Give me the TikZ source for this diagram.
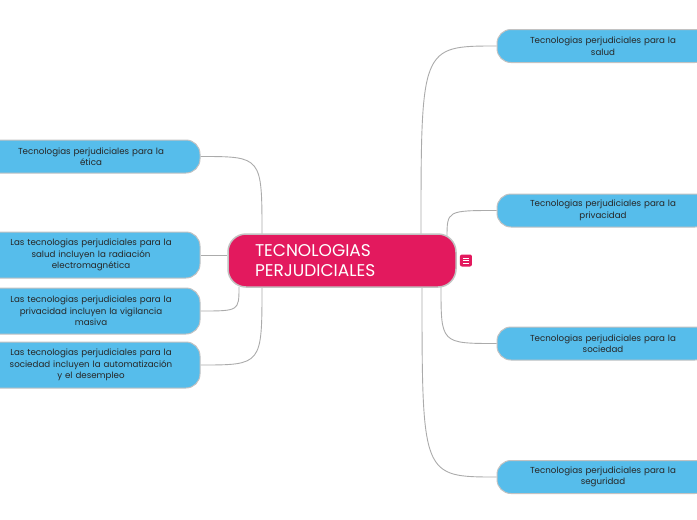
\documentclass[tikz,border=0pt]{standalone}
\usepackage{fontspec}
\setmainfont{Poppins}
\usetikzlibrary{positioning,calc}
\definecolor{mapred}{HTML}{E3195E}
\definecolor{mapblue}{HTML}{56BDEB}
\definecolor{mapline}{HTML}{ABABAB}
\definecolor{mapedge}{HTML}{C2C2C2}

\begin{document}
\begin{tikzpicture}[x=1pt, y=-1pt,
  topic/.style={draw=mapedge, line width=1.5pt, fill=mapred, rounded corners=18pt, minimum width=228pt, minimum height=53pt, inner xsep=27pt, text width=174pt, align=left, text=white, font=\fontsize{17}{19.5}\selectfont},
  sub/.style={draw=mapedge, line width=1pt, fill=mapblue, rounded corners=14pt, minimum height=33pt, inner sep=2pt, align=center, font=\fontsize{8.7}{11.5}\selectfont, text=black!85},
  rsub/.style={sub, minimum width=212pt, text width=190pt},
  lsub/.style={sub, minimum width=218pt, text width=190pt},
  link/.style={draw=mapline, line width=0.9pt}
]
\useasboundingbox (0,0) rectangle (697,520);
\clip (0,0) rectangle (697,520);

% links first, nodes on top
\coordinate (rs1) at (421,234);
\coordinate (rs2) at (447,238);
\coordinate (rs3) at (441,287);
\coordinate (rs4) at (422,287);
\coordinate (ls1) at (262,234);
\coordinate (ls3) at (239,287);
\coordinate (ls4) at (262,287);

\node[rsub] (rsalud) at (603,46) {Tecnologias perjudiciales para la\\salud};
\node[rsub] (rpriv) at (603,210.5) {Tecnologias perjudiciales para la\\privacidad};
\node[rsub] (rsoc) at (603,343.5) {Tecnologias perjudiciales para la\\sociedad};
\node[rsub] (rseg) at (603,477) {Tecnologias perjudiciales para la\\seguridad};

\node[lsub] (letica) at (91,156.5) {Tecnologias perjudiciales para la\\ética};
\node[lsub, minimum height=46pt] (lsalud) at (91,255) {Las tecnologias perjudiciales para la\\salud incluyen la radiación\\electromagnética};
\node[lsub, minimum height=46pt] (lpriv) at (91,311) {Las tecnologias perjudiciales para la\\privacidad incluyen la vigilancia\\masiva};
\node[lsub, minimum height=46pt] (lsoc) at (91,365) {Las tecnologias perjudiciales para la\\sociedad incluyen la automatización\\y el desempleo};

\draw[link] (rs1) .. controls (rs1 |- rsalud.west) .. (rsalud.west);
\draw[link] (rs2) .. controls (rs2 |- rpriv.west) .. (rpriv.west);
\draw[link] (rs3) .. controls (rs3 |- rsoc.west) .. (rsoc.west);
\draw[link] (rs4) .. controls (rs4 |- rseg.west) .. (rseg.west);
\draw[link] (ls1) .. controls (ls1 |- letica.east) .. (letica.east);
\draw[link] (ls3) .. controls (ls3 |- lpriv.east) .. (lpriv.east);
\draw[link] (ls4) .. controls (ls4 |- lsoc.east) .. (lsoc.east);

\node[topic] (main) at (342,260.5) {TECNOLOGIAS\\PERJUDICIALES};
\draw[link] (main.west |- lsalud.east) -- (lsalud.east);

% note icon
\node[fill=mapred, rounded corners=2pt, minimum size=12pt, inner sep=0pt, right=3pt of main] (note) {};
\foreach \dy in {-2.5,0,2.5}
  \draw[white, line width=1pt] ($(note.center)+(-3,\dy)$) -- ($(note.center)+(3,\dy)$);
\end{tikzpicture}
\end{document}
